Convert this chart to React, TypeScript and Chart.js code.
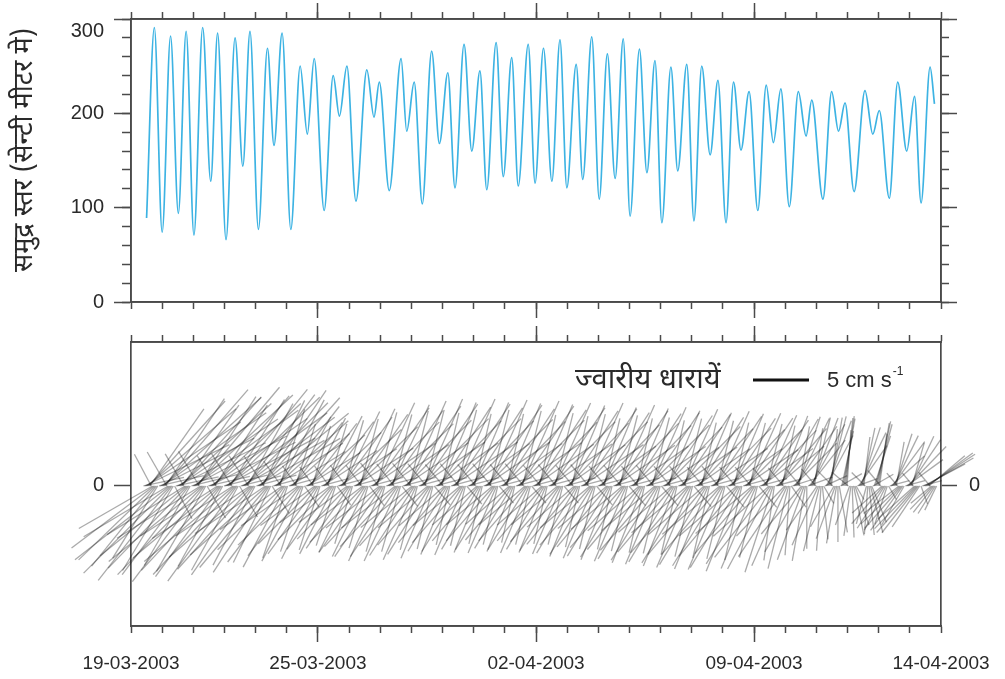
import React, { useEffect, useRef } from 'react';
import { Chart, registerables } from 'chart.js';

Chart.register(...registerables);

// ---------------- data ----------------
const dateTickDays = [0, 6, 13, 20, 26];
const dateTickLabels = ['19-03-2003', '25-03-2003', '02-04-2003', '09-04-2003', '14-04-2003'];
const dayTicks = [0, 1, 2, 3, 4, 5, 6, 7, 8, 9, 10, 11, 12, 13, 14, 15, 16, 17, 18, 19, 20, 21, 22, 23, 24, 25, 26];
const seaMajorTicks = [0, 100, 200, 300];
const seaMajorLabels = ['0', '100', '200', ['', '300']];
const seaMinorTicks = [0, 20, 40, 60, 80, 100, 120, 140, 160, 180, 200, 220, 240, 260, 280, 300];
const currentZeroTick = [0];

const yTitle = '   समुद्र स्तर (सेन्टी मीटर मे)';
const legendLabel = 'ज्वारीय धारायें';
const legendScaleCms = 5;

// sea level extrema: day since 19-03-2003 00:00, level (cm)
const seaDays = [
  0.50, 0.75, 1.00, 1.27, 1.52, 1.77, 2.02, 2.30, 2.56, 2.78,
  3.05, 3.34, 3.59, 3.82, 4.09, 4.38, 4.59, 4.85, 5.13, 5.43,
  5.66, 5.88, 6.20, 6.49, 6.69, 6.93, 7.22, 7.57, 7.80, 7.97,
  8.29, 8.67, 8.85, 9.09, 9.35, 9.65, 9.90, 10.17, 10.40, 10.69,
  10.94, 11.20, 11.42, 11.72, 11.95, 12.22, 12.43, 12.75, 12.97, 13.24,
  13.51, 13.77, 13.99, 14.29, 14.50, 14.79, 15.03, 15.29, 15.54, 15.80,
  16.02, 16.32, 16.56, 16.82, 17.04, 17.33, 17.55, 17.84, 18.07, 18.32,
  18.59, 18.84, 19.10, 19.34, 19.58, 19.84, 20.12, 20.39, 20.62, 20.86,
  21.13, 21.42, 21.67, 21.85, 22.21, 22.49, 22.71, 22.92, 23.21, 23.56,
  23.81, 24.02, 24.34, 24.61, 24.90, 25.15, 25.36, 25.65, 25.79,
];
const seaLevel = [
  89, 291, 74, 282, 94, 287, 71, 291, 128, 285,
  66, 280, 144, 287, 77, 269, 166, 285, 77, 250,
  178, 258, 97, 240, 197, 250, 107, 246, 196, 233,
  118, 258, 181, 233, 104, 266, 168, 243, 121, 273,
  160, 245, 119, 275, 133, 259, 123, 273, 126, 269,
  128, 278, 121, 252, 130, 281, 109, 263, 131, 279,
  91, 268, 137, 256, 84, 249, 139, 252, 86, 250,
  156, 235, 84, 233, 161, 223, 97, 230, 169, 226,
  101, 223, 176, 214, 109, 223, 181, 211, 117, 224,
  178, 203, 110, 233, 160, 218, 105, 249, 210,
];

// tidal current sticks, hourly from stickStartDay: speed (cm/s), direction (deg, counter-clockwise from east)
// one row per semi-diurnal cycle
const stickStartDay = 0.4;
const stickStepHours = 1;
const curSpeed = [
  3.7,8.4,10.2,10.5,10.2,8.4,3.2, 7.6,9.2,9.5,9.2,7.6,
  4.1,9.4,11.4,11.8,11.4,9.4,3.5, 8.8,10.7,11,10.7,8.8,3.3,
  3.9,8.8,10.7,11,10.7,8.8,3.3, 8.2,9.9,10.2,9.9,8.2,
  4.2,9.5,11.5,11.9,11.5,9.5,3.6, 8.8,10.7,11,10.7,8.8,3.3,
  3.8,8.6,10.5,10.8,10.5,8.6,3.2, 8.2,10,10.3,10,8.2,
  4,9.1,11.1,11.4,11.1,9.1,3.4, 8.6,10.5,10.8,10.5,8.6,3.2,
  3.7,8.4,10.2,10.5,10.2,8.4,3.2, 8,9.7,10,9.7,8,
  3.7,8.5,10.3,10.6,10.3,8.5,3.2, 7.6,9.2,9.5,9.2,7.6,2.9,
  3.2,7.2,8.7,9,8.7,7.2,2.7, 6.8,8.2,8.5,8.2,6.8,
  2.5,5.8,7,7.2,7,5.8,2.2, 6.2,7.6,7.8,7.6,6.2,2.3,
  2.5,5.6,6.8,7,6.8,5.6,2.1, 6,7.3,7.5,7.3,6,
  2.5,5.8,7,7.2,7,5.8,2.2, 5.6,6.8,7,6.8,5.6,2.1,
  2.7,6.1,7.4,7.6,7.4,6.1,2.3, 5.4,6.6,6.8,6.6,5.4,
  2.7,6.2,7.6,7.8,7.6,6.2,2.3, 5.8,7,7.2,7,5.8,2.2,
  3,6.8,8.2,8.5,8.2,6.8,2.6, 6.1,7.4,7.6,7.4,6.1,
  2.9,6.6,8,8.2,8,6.6,2.5, 6.1,7.4,7.6,7.4,6.1,2.3,
  3,6.9,8.3,8.6,8.3,6.9,2.6, 5.9,7.2,7.4,7.2,5.9,
  3.1,7,8.5,8.8,8.5,7,2.6, 5.8,7,7.2,7,5.8,2.2,
  2.9,6.7,8.1,8.4,8.1,6.7,2.5, 5.4,6.6,6.8,6.6,5.4,
  3.1,7,8.5,8.8,8.5,7,2.6, 5.5,6.7,6.9,6.7,5.5,2.1,
  2.9,6.6,8.1,8.3,8.1,6.6,2.5, 5.3,6.4,6.6,6.4,5.3,
  3,7,8.4,8.7,8.4,7,2.6, 5.4,6.5,6.7,6.5,5.4,2,
  2.9,6.6,8,8.2,8,6.6,2.5, 5.2,6.3,6.5,6.3,5.2,
  3,6.9,8.3,8.6,8.3,6.9,2.6, 5.4,6.5,6.7,6.5,5.4,2,
  2.8,6.5,7.9,8.1,7.9,6.5,2.4, 5.3,6.4,6.6,6.4,5.3,
  2.9,6.7,8.1,8.4,8.1,6.7,2.5, 5.4,6.6,6.8,6.6,5.4,2,
  2.8,6.4,7.8,8,7.8,6.4,2.4, 5.6,6.8,7,6.8,5.6,
  2.9,6.6,8.1,8.3,8.1,6.6,2.5, 5.8,7,7.2,7,5.8,2.2,
  2.7,6.2,7.6,7.8,7.6,6.2,2.3, 5.8,7.1,7.3,7.1,5.8,
  2.8,6.5,7.9,8.1,7.9,6.5,2.4, 6,7.3,7.5,7.3,6,2.3,
  2.7,6.2,7.5,7.7,7.5,6.2,2.3, 6.1,7.4,7.6,7.4,6.1,
  2.8,6.3,7.7,7.9,7.7,6.3,2.4, 6.2,7.6,7.8,7.6,6.2,2.3,
  2.6,6,7.3,7.5,7.3,6,2.3, 6.3,7.7,7.9,7.7,6.3,
  2.7,6.2,7.5,7.7,7.5,6.2,2.3, 6.5,7.9,8.1,7.9,6.5,2.4,
  2.6,5.8,7.1,7.3,7.1,5.8,2.2, 6.6,8,8.2,8,6.6,
  2.6,6,7.3,7.5,7.3,6,2.3, 6.7,8.1,8.4,8.1,6.7,2.5,
  2.5,5.8,7,7.2,7,5.8,2.2, 6.8,8.2,8.5,8.2,6.8,
  2.6,5.8,7.1,7.3,7.1,5.8,2.2, 6.6,8,8.2,8,6.6,2.5,
  2.5,5.7,6.9,7.1,6.9,5.7,2.1, 6.7,8.1,8.4,8.1,6.7,
  2.4,5.5,6.7,6.9,6.7,5.5,2.1, 6.2,7.6,7.8,7.6,6.2,2.3,
  2.3,5.4,6.5,6.7,6.5,5.4,2, 5.6,6.8,7,6.8,5.6,
  2.3,5.2,6.3,6.5,6.3,5.2,2, 4.8,5.8,6,5.8,4.8,1.8,
  2.2,5.1,6.2,6.4,6.2,5.1,1.9, 4.2,5,5.2,5,4.2,
  2.2,5,6.1,6.3,6.1,5,1.9, 3.7,4.5,4.6,4.5,3.7,1.4,
  1.9,4.4,5.3,5.5,5.3,4.4,1.7, 3.5,4.3,4.4,4.3,3.5,
  2.1,4.7,5.7,5.9,5.7,4.7,1.8, 3.6,4.4,4.5,4.4,3.6,1.4,
  1.8,4,4.9,5,4.9,4,1.5, 4,4.9,5,4.9,4,
  1.8,4,4.9,5,4.9,4,1.5, 4.4,5.3,5.5,5.3,4.4,1.7,
  1.8,4.2,5,5.2,5,4.2,1.6, 2.4,2.9,3,2.9,2.4,
];
const curDir = [
  12,26,34,41,48,55,118, 210,217,224,231,238,
  13,27,35,42,49,56,120, 211,218,225,232,239,298,
  12,26,34,42,48,55,120, 212,219,226,233,240,
  14,28,36,43,50,57,121, 212,219,226,233,240,300,
  13,27,35,43,50,57,122, 213,220,227,234,241,
  14,28,36,44,51,58,122, 213,220,227,234,241,300,
  14,29,37,45,53,61,123, 214,221,228,235,242,
  15,30,39,48,56,64,124, 214,222,230,237,244,302,
  15,32,42,52,62,72,125, 215,224,233,242,251,
  15,32,42,52,62,72,125, 215,224,233,242,251,305,
  15,32,42,53,63,73,126, 216,225,234,243,252,
  15,33,43,53,63,73,126, 216,225,234,243,252,306,
  15,33,43,54,64,74,127, 217,226,235,244,253,
  15,33,44,55,65,75,127, 217,226,235,244,253,307,
  15,34,44,55,65,75,128, 218,227,236,245,254,
  15,34,44,55,65,75,128, 218,227,236,245,254,308,
  15,34,45,56,66,76,129, 219,228,237,246,255,
  15,34,45,56,66,76,130, 220,229,238,247,256,310,
  15,35,46,57,67,77,130, 221,230,239,248,257,
  15,34,45,56,66,76,130, 220,229,238,247,256,310,
  15,35,46,57,67,77,130, 221,230,239,248,257,
  15,34,45,56,66,76,130, 220,229,238,247,256,310,
  15,35,46,57,67,77,130, 221,230,239,248,257,
  15,34,45,56,66,76,130, 220,229,238,247,256,310,
  15,35,46,57,67,77,130, 221,230,239,248,257,
  15,34,45,56,66,76,130, 220,229,238,247,256,310,
  15,35,46,57,67,77,130, 221,230,239,248,257,
  15,34,45,56,66,76,130, 220,229,238,247,256,310,
  15,35,46,57,67,77,130, 221,230,239,248,257,
  15,34,45,56,66,76,130, 220,229,238,247,256,310,
  15,35,46,57,67,77,130, 221,230,239,248,257,
  15,34,45,56,66,76,130, 220,229,238,247,256,310,
  15,35,46,57,67,77,130, 221,230,239,248,257,
  15,34,45,56,66,76,130, 220,229,238,247,256,310,
  15,35,46,57,67,77,130, 221,230,239,248,257,
  15,34,45,56,66,76,130, 220,229,238,247,256,310,
  15,35,46,57,67,77,130, 221,230,239,248,257,
  15,34,45,56,66,76,130, 220,229,238,247,256,310,
  15,36,46,56,66,76,130, 222,232,242,252,262,
  15,40,50,60,69,78,130, 226,236,246,256,266,305,
  18,45,55,64,72,80,130, 230,240,250,260,270,
  20,52,61,69,76,82,130, 235,246,256,266,276,300,
  25,62,70,76,80,84,135, 240,250,260,270,280,
  30,78,80,82,84,86,140, 250,262,272,282,290,300,
  20,55,64,72,78,83,135, 255,266,276,285,292,
  30,72,75,78,80,82,130, 222,230,237,244,252,300,
  15,42,54,64,72,80,130, 218,224,229,234,240,
  15,36,46,56,65,74,130, 222,226,229,232,236,290,
  15,28,30,33,36,40,130, 220,226,232,238,244,
];

// ---------------- layout & style ----------------
const W = 1005;
const TOP_H = 325;
const BOT_H = 354;
const AXIS = '#4a4a4a';
const TEXT = '#2a2a2a';
const LINE_BLUE = '#3db3e3';
const STICK = 'rgba(20,20,20,0.36)';
const LATIN = "'Liberation Sans', Arial, sans-serif";
const DEVA = "'Noto Sans Devanagari', 'Lohit Devanagari', 'FreeSans', 'Noto Sans', sans-serif";

type AxisOpts = {
  axis: 'x' | 'y';
  pos: string;
  min: number;
  max: number;
  values: number[];
  tl: number;
  weight: number;
  size: number;
  labels?: any[];
  hideAt?: number[];
  fontSize?: number;
  padding?: number;
  title?: any;
};

function axisCfg(o: AxisOpts) {
  return {
    type: 'linear',
    axis: o.axis,
    position: o.pos,
    min: o.min,
    max: o.max,
    weight: o.weight,
    afterBuildTicks: (s: any) => {
      s.ticks = o.values.map((v) => ({ value: v }));
    },
    afterFit: (s: any) => {
      if (o.axis === 'x') s.height = o.size;
      else s.width = o.size;
      s.paddingLeft = 0;
      s.paddingRight = 0;
      s.paddingTop = 0;
      s.paddingBottom = 0;
    },
    grid: {
      display: true,
      drawOnChartArea: false,
      drawTicks: true,
      tickLength: o.tl,
      tickWidth: 1.5,
      tickColor: (c: any) =>
        o.hideAt && c.tick && o.hideAt.includes(c.tick.value) ? 'rgba(0,0,0,0)' : AXIS,
    },
    border: { display: true, color: AXIS, width: 1.7 },
    ticks: o.labels
      ? {
          display: true,
          autoSkip: false,
          maxRotation: 0,
          minRotation: 0,
          padding: o.padding ?? 8,
          color: TEXT,
          font: { family: LATIN, size: o.fontSize ?? 19 },
          callback: (_v: any, i: number) => o.labels![i],
        }
      : { display: false },
    title: o.title ?? { display: false },
  };
}

const stickPlugin = {
  id: 'tidalSticks',
  afterDatasetsDraw(chart: any) {
    const xs = chart.scales.x;
    const ys = chart.scales.y;
    const ctx = chart.ctx;
    const y0 = ys.getPixelForValue(0);
    const unit = Math.abs(ys.getPixelForValue(1) - y0);
    const n = Math.min(curSpeed.length, curDir.length);
    ctx.save();
    ctx.strokeStyle = STICK;
    ctx.lineWidth = 1.3;
    for (let i = 0; i < n; i++) {
      const t = stickStartDay + (i * stickStepHours) / 24;
      const a = (curDir[i] * Math.PI) / 180;
      const x0 = xs.getPixelForValue(t);
      const x1 = x0 + curSpeed[i] * Math.cos(a) * unit;
      const y1 = ys.getPixelForValue(curSpeed[i] * Math.sin(a));
      ctx.beginPath();
      ctx.moveTo(x0, y0);
      ctx.lineTo(x1, y1);
      ctx.stroke();
    }
    ctx.restore();
  },
};

const legendPlugin = {
  id: 'scaleLegend',
  afterDraw(chart: any) {
    const ctx = chart.ctx;
    const ys = chart.scales.y;
    const area = chart.chartArea;
    const unit = Math.abs(ys.getPixelForValue(1) - ys.getPixelForValue(0));
    const yMid = area.top + 38;
    ctx.save();
    ctx.fillStyle = TEXT;
    ctx.textBaseline = 'middle';
    ctx.textAlign = 'left';
    ctx.font = `29px ${DEVA}`;
    ctx.fillText(legendLabel, area.left + 444, yMid + 3);
    const bx = area.left + 622;
    ctx.strokeStyle = '#111';
    ctx.lineWidth = 3;
    ctx.beginPath();
    ctx.moveTo(bx, yMid);
    ctx.lineTo(bx + legendScaleCms * unit, yMid);
    ctx.stroke();
    ctx.font = `22px ${LATIN}`;
    const txt = `${legendScaleCms} cm s`;
    const tx = bx + legendScaleCms * unit + 18;
    ctx.fillText(txt, tx, yMid + 1);
    const w = ctx.measureText(txt).width;
    ctx.font = `12px ${LATIN}`;
    ctx.fillText('-1', tx + w + 1, yMid - 8);
    ctx.restore();
  },
};

function topConfig(): any {
  return {
    type: 'line',
    data: {
      datasets: [
        {
          data: seaDays.map((d, i) => ({ x: d, y: seaLevel[i] })),
          borderColor: LINE_BLUE,
          borderWidth: 1.7,
          pointRadius: 0,
          fill: false,
          cubicInterpolationMode: 'monotone',
          xAxisID: 'x',
          yAxisID: 'y',
        },
      ],
    },
    options: {
      animation: false,
      responsive: false,
      events: [],
      layout: { padding: 0 },
      plugins: { legend: { display: false }, tooltip: { enabled: false } },
      scales: {
        x: axisCfg({ axis: 'x', pos: 'bottom', min: 0, max: 26, values: [6, 13, 20], tl: 16, weight: 2, size: 23 }),
        xm: axisCfg({ axis: 'x', pos: 'bottom', min: 0, max: 26, values: dayTicks, tl: 7, weight: 1, size: 0 }),
        xt: axisCfg({ axis: 'x', pos: 'top', min: 0, max: 26, values: [6, 13, 20], tl: 16, weight: 2, size: 19 }),
        xtm: axisCfg({ axis: 'x', pos: 'top', min: 0, max: 26, values: dayTicks, tl: 7, weight: 1, size: 0 }),
        y: axisCfg({
          axis: 'y', pos: 'left', min: 0, max: 300, values: seaMajorTicks, tl: 17, weight: 2, size: 131,
          labels: seaMajorLabels, fontSize: 20, padding: 10,
          title: {
            display: true,
            text: yTitle,
            color: TEXT,
            font: { family: DEVA, size: 27 },
            padding: { top: 11, bottom: 0 },
          },
        }),
        ym: axisCfg({ axis: 'y', pos: 'left', min: 0, max: 300, values: seaMinorTicks, tl: 9, weight: 1, size: 0 }),
        yr: axisCfg({ axis: 'y', pos: 'right', min: 0, max: 300, values: seaMajorTicks, tl: 16, weight: 2, size: 64 }),
        yrm: axisCfg({ axis: 'y', pos: 'right', min: 0, max: 300, values: seaMinorTicks, tl: 8, weight: 1, size: 0 }),
      },
    },
  };
}

function bottomConfig(): any {
  return {
    type: 'line',
    data: { datasets: [] },
    options: {
      animation: false,
      responsive: false,
      events: [],
      layout: { padding: 0 },
      plugins: { legend: { display: false }, tooltip: { enabled: false } },
      scales: {
        x: axisCfg({
          axis: 'x', pos: 'bottom', min: 0, max: 26, values: dateTickDays, tl: 16, weight: 2, size: 53,
          labels: dateTickLabels, hideAt: [0, 26], fontSize: 19, padding: 10,
        }),
        xm: axisCfg({ axis: 'x', pos: 'bottom', min: 0, max: 26, values: dayTicks, tl: 7, weight: 1, size: 0 }),
        xt: axisCfg({ axis: 'x', pos: 'top', min: 0, max: 26, values: [6, 13, 20], tl: 16, weight: 2, size: 17 }),
        xtm: axisCfg({ axis: 'x', pos: 'top', min: 0, max: 26, values: dayTicks, tl: 7, weight: 1, size: 0 }),
        y: axisCfg({
          axis: 'y', pos: 'left', min: -12.5, max: 12.85, values: currentZeroTick, tl: 17, weight: 2, size: 131,
          labels: ['0'], fontSize: 20, padding: 10,
        }),
        yr: axisCfg({
          axis: 'y', pos: 'right', min: -12.5, max: 12.85, values: currentZeroTick, tl: 16, weight: 2, size: 64,
          labels: ['0'], fontSize: 20, padding: 12,
        }),
      },
    },
    plugins: [stickPlugin, legendPlugin],
  };
}

export default function App() {
  const topRef = useRef<HTMLCanvasElement>(null);
  const botRef = useRef<HTMLCanvasElement>(null);
  useEffect(() => {
    const c1 = new Chart(topRef.current as HTMLCanvasElement, topConfig());
    const c2 = new Chart(botRef.current as HTMLCanvasElement, bottomConfig());
    return () => {
      c1.destroy();
      c2.destroy();
    };
  }, []);
  return (
    <div style={{ position: 'fixed', left: 0, top: 0, width: W, height: 679, background: '#fff' }}>
      <canvas
        ref={topRef}
        width={W}
        height={TOP_H}
        style={{ position: 'absolute', left: 0, top: 0, width: W, height: TOP_H }}
      />
      <canvas
        ref={botRef}
        width={W}
        height={BOT_H}
        style={{ position: 'absolute', left: 0, top: TOP_H, width: W, height: BOT_H }}
      />
    </div>
  );
}
